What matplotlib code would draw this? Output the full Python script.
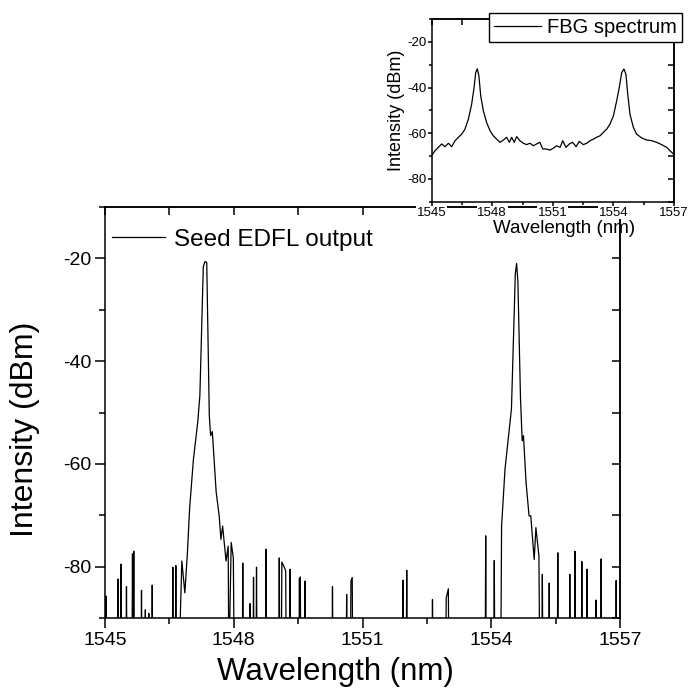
import matplotlib
matplotlib.use("Agg")
import matplotlib.pyplot as plt
from matplotlib.ticker import MultipleLocator

plt.rcParams["font.family"] = ["Liberation Sans", "DejaVu Sans"]
plt.rcParams["axes.unicode_minus"] = False

FLOOR = -100.0  # OSA noise floor, below the visible range

# isolated noise spikes of the seed EDFL output (nm, dBm)
spike_wl = [1545.02, 1545.30, 1545.37, 1545.50, 1545.64, 1545.67, 1545.85, 1545.94,
            1546.02, 1546.10, 1546.58, 1546.65, 1548.21, 1548.38, 1548.46, 1548.53,
            1548.75, 1549.06, 1549.31, 1549.53, 1549.55, 1549.66, 1550.30, 1550.63,
            1551.94, 1552.03, 1552.63, 1553.87, 1554.07, 1555.19, 1555.35, 1555.55,
            1555.83, 1555.95, 1556.11, 1556.23, 1556.44, 1556.56, 1556.91]
spike_db = [-85.7, -82.4, -79.5, -83.9, -77.5, -77.0, -84.6, -88.4,
            -89.1, -83.6, -80.1, -79.8, -79.3, -87.2, -82.1, -80.1,
            -76.6, -78.3, -80.5, -82.3, -82.0, -82.8, -83.9, -85.4,
            -82.6, -80.7, -86.4, -74.0, -78.8, -81.5, -83.2, -77.3,
            -81.5, -77.0, -79.0, -80.5, -86.5, -78.5, -82.7]

# short connected stretches above the floor
shelf_wl = [[1549.12, 1549.16, 1549.21], [1550.73, 1550.76], [1552.95, 1553.00]]
shelf_db = [[-79.1, -79.8, -80.8], [-82.8, -82.1], [-86.1, -84.3]]

# lasing line near 1547.3 nm
peak1_wl = [1546.72, 1546.79, 1546.86, 1546.92, 1546.97, 1547.06, 1547.16, 1547.21,
            1547.29, 1547.33, 1547.37, 1547.43, 1547.46, 1547.50, 1547.59, 1547.66,
            1547.70, 1547.74, 1547.82, 1547.87, 1547.885, 1547.94, 1547.99, 1548.01]
peak1_db = [FLOOR, -78.9, -85.1, -77.3, -68.8, -59.1, -51.9, -46.7,
            -21.6, -20.6, -20.8, -50.6, -54.5, -53.7, -65.5, -70.1,
            -74.7, -72.1, -78.9, -76.0, FLOOR, -75.3, -78.3, FLOOR]

# lasing line near 1554.6 nm
peak2_wl = [1554.22, 1554.24, 1554.32, 1554.37, 1554.47, 1554.52, 1554.56, 1554.59,
            1554.62, 1554.68, 1554.72, 1554.75, 1554.81, 1554.88, 1554.92, 1555.00,
            1555.04, 1555.11, 1555.13]
peak2_db = [FLOOR, -72.1, -61.0, -57.1, -49.3, -35.0, -23.0, -21.0,
            -24.5, -47.0, -55.5, -54.5, -63.6, -70.1, -70.1, -78.6,
            -72.4, -77.9, FLOOR]

# FBG reflection spectrum (inset)
fbg_wl = [1545.00, 1545.17, 1545.33, 1545.50, 1545.66, 1545.83, 1545.99, 1546.16,
          1546.32, 1546.49, 1546.65, 1546.82, 1546.98, 1547.10, 1547.18, 1547.26,
          1547.34, 1547.43, 1547.56, 1547.72, 1547.89, 1548.05, 1548.22, 1548.38,
          1548.55, 1548.71, 1548.85, 1548.96, 1549.09, 1549.21, 1549.37, 1549.54,
          1549.70, 1549.87, 1550.03, 1550.20, 1550.36, 1550.50, 1550.66, 1550.86,
          1551.03, 1551.19, 1551.36, 1551.49, 1551.65, 1551.82, 1551.98, 1552.15,
          1552.31, 1552.51, 1552.68, 1552.84, 1553.01, 1553.17, 1553.34, 1553.50,
          1553.67, 1553.83, 1554.00, 1554.16, 1554.29, 1554.41, 1554.52, 1554.62,
          1554.71, 1554.82, 1554.99, 1555.15, 1555.40, 1555.65, 1555.91, 1556.14,
          1556.39, 1556.64, 1556.80, 1557.00]
fbg_db = [-69.8, -67.6, -66.2, -64.7, -65.9, -64.4, -65.9, -63.3,
          -61.8, -60.4, -58.2, -53.8, -47.3, -40.0, -33.5, -31.8,
          -35.0, -43.7, -50.2, -55.3, -58.9, -61.1, -62.6, -64.0,
          -63.0, -61.8, -64.0, -61.8, -64.0, -61.5, -63.3, -64.4,
          -65.0, -64.4, -65.5, -64.7, -64.0, -66.9, -66.9, -67.4,
          -66.5, -65.5, -66.2, -63.3, -66.2, -64.7, -64.0, -65.9,
          -63.6, -65.0, -64.4, -63.3, -62.6, -61.8, -61.1, -59.7,
          -58.2, -56.0, -52.4, -45.9, -40.0, -33.5, -31.9, -34.2,
          -42.9, -51.7, -57.5, -60.4, -62.1, -63.0, -63.3, -64.0,
          -65.0, -66.2, -67.6, -69.4]


def build_trace():
    """Join spikes, shelves and the two lasing lines into one trace over the floor."""
    segs = [([w - 0.012, w, w + 0.012], [FLOOR, d, FLOOR]) for w, d in zip(spike_wl, spike_db)]
    for ws, ds in zip(shelf_wl, shelf_db):
        segs.append(([ws[0] - 0.012] + ws + [ws[-1] + 0.012], [FLOOR] + ds + [FLOOR]))
    segs.append((peak1_wl, peak1_db))
    segs.append((peak2_wl, peak2_db))
    segs.sort(key=lambda s: s[0][0])
    wl, db = [], []
    for ws, ds in segs:
        wl += list(ws)
        db += list(ds)
    return wl, db


def style_axes(ax, tick_size, major_len, minor_len, pad):
    for sp in ax.spines.values():
        sp.set_linewidth(1.1)
    ax.set_xlim(1545, 1557)
    ax.set_ylim(-90, -10)
    ax.xaxis.set_major_locator(MultipleLocator(3))
    ax.xaxis.set_minor_locator(MultipleLocator(1.5))
    ax.yaxis.set_major_locator(MultipleLocator(20))
    ax.yaxis.set_minor_locator(MultipleLocator(10))
    ax.set_yticks([-80, -60, -40, -20])
    ax.tick_params(which="major", direction="out", length=major_len, width=1.1,
                   labelsize=tick_size, pad=pad)
    ax.tick_params(which="minor", direction="out", length=minor_len, width=1.1)
    top = ax.secondary_xaxis("top")
    top.xaxis.set_major_locator(MultipleLocator(1.5))
    top.tick_params(direction="in", length=minor_len + 2, width=1.1, labeltop=False)
    right = ax.secondary_yaxis("right")
    right.yaxis.set_major_locator(MultipleLocator(10))
    right.tick_params(direction="in", length=minor_len + 2, width=1.1, labelright=False)
    for sec in (top, right):
        for sp in sec.spines.values():
            sp.set_linewidth(1.1)


fig = plt.figure(figsize=(6.9, 6.88), dpi=100)

# main panel: seed EDFL output
ax = fig.add_axes([0.1522, 0.1017, 0.7464, 0.5974])
wl, db = build_trace()
ax.plot(wl, db, color="black", lw=0.9, label="Seed EDFL output")
style_axes(ax, 14, 7, 4, 3)
ax.set_xlabel("Wavelength (nm)", fontsize=22.5)
ax.set_ylabel("Intensity (dBm)", fontsize=23)
ax.xaxis.set_label_coords(0.447, -0.096)
ax.yaxis.set_label_coords(-0.127, 0.46)
ax.legend(loc="upper left", bbox_to_anchor=(0.0, 0.965), frameon=False,
          fontsize=17.5, handlelength=2.15, handletextpad=0.4,
          borderpad=0.0, borderaxespad=0.3)

# inset: FBG spectrum
ins = fig.add_axes([0.6256, 0.7068, 0.3512, 0.2656])
ins.plot(fbg_wl, fbg_db, color="black", lw=0.9, label="FBG spectrum")
style_axes(ins, 9.5, 3, 2, 0.5)
# inset tick labels sit over the main panel's top ticks; keep them readable
for lab in ins.get_xticklabels():
    lab.set_bbox(dict(facecolor="white", edgecolor="none", pad=0.5))
ins.set_xlabel("Wavelength (nm)", fontsize=13.5)
ins.set_ylabel("Intensity (dBm)", fontsize=13, labelpad=2)
ins.xaxis.set_label_coords(0.545, -0.1)
ins.legend(loc="upper right", bbox_to_anchor=(1.033, 1.032), fontsize=14.5,
           fancybox=False, edgecolor="black", framealpha=1, handlelength=2.35,
           handletextpad=0.3, borderpad=0.25, borderaxespad=0.0)

fig.savefig("out.png", dpi=100)
